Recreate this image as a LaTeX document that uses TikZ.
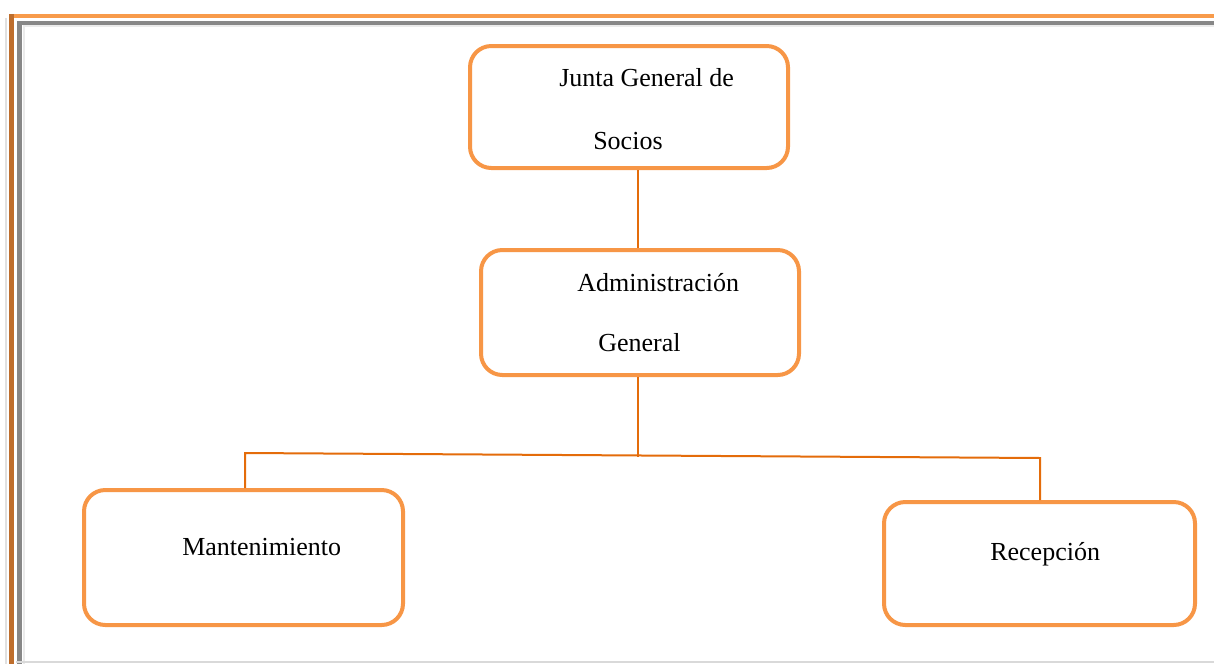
\documentclass[tikz,border=0pt]{standalone}
\usepackage{fontspec}
\setmainfont{Liberation Serif}
\usepackage{tikz}
\usetikzlibrary{positioning}
\definecolor{boxorange}{RGB}{247,150,70}
\definecolor{linkorange}{RGB}{228,108,10}
\definecolor{frameorange}{RGB}{248,155,75}
\definecolor{framebrown}{RGB}{190,110,45}
\definecolor{framegray}{RGB}{135,135,135}

\begin{document}
\begin{tikzpicture}[
        x=0.75pt, y=-0.75pt,
        box/.style={rectangle, rounded corners=16pt, draw=boxorange, line width=3pt,
                    fill=white},
        label/.style={anchor=base west, inner sep=0pt, font=\fontsize{19.5}{23}\selectfont},
        link/.style={draw=linkorange, line width=1.5pt},
      ]
      \useasboundingbox (0,0) rectangle (1214,664);
      % page frame
      \draw[black!12, line width=2pt] (6,664) -- (6,18);
      \draw[frameorange, line width=3pt] (11.5,15.5) -- (1214,15.5);
      \draw[framebrown, line width=3.5pt] (11.5,664) -- (11.5,14);
      \draw[framegray, line width=3.5pt] (19.5,664) -- (19.5,23) -- (1214,23);
      \draw[black!8, line width=1.5pt] (23.5,664) -- (23.5,26) -- (1214,26);
      \draw[black!15, line width=1pt] (16,662) -- (1214,662);

      % boxes
      \node[box, minimum width=238.5pt, minimum height=91.5pt] (junta) at (629,107) {};
      \node[box, minimum width=238.5pt, minimum height=93.75pt] (admin) at (640,312.5) {};
      \node[box, minimum width=239.25pt, minimum height=101.25pt] (mant) at (243.5,557.5) {};
      \node[box, minimum width=233.25pt, minimum height=92.25pt] (recep) at (1039.5,563.5) {};

      \node[label] (juntaA) at (559,86) {Junta General de};
      \node[label] (juntaB) at (593,149) {Socios};
      \node[label] (adminA) at (577,291) {Administración};
      \node[label] (adminB) at (598,351) {General};
      \node[label] (mantA) at (182,555) {Mantenimiento};
      \node[label] (recepA) at (990,560) {Recepción};

      % connectors
      \coordinate (fork) at (638,457);
      \coordinate (barl) at (245,453);
      \coordinate (barr) at (1040,458);
      \draw[link] ([xshift=8.5pt*0.75]junta.south) -- ([xshift=8.5pt*0.75]junta.south |- admin.north);
      \draw[link] ([xshift=-2pt*0.75]admin.south) -- (fork);
      \draw[link] (mant.north -| barl) -- (barl) -- (barr) -- (recep.north -| barr);
\end{tikzpicture}
\end{document}
